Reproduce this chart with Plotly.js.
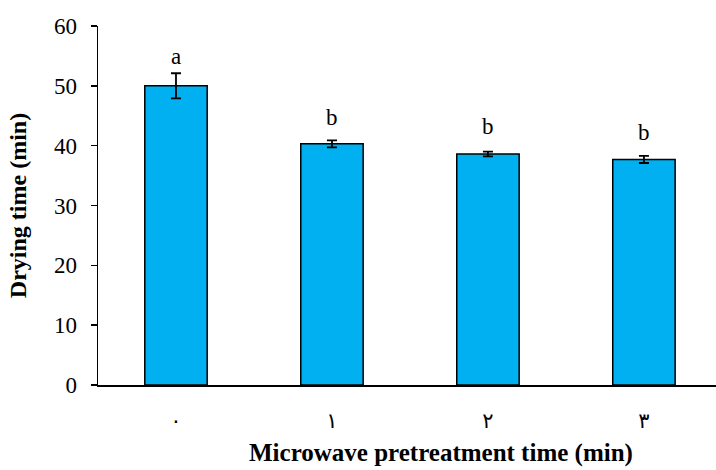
<!DOCTYPE html>
<html><head><meta charset="utf-8">
<script src="https://cdn.plot.ly/plotly-3.0.1.min.js"></script>
<style>body{margin:0;background:#fff}</style>
</head><body><div id="chart" style="width:716px;height:470px"></div>
<script>
const categories = ['٠','١','٢','٣'];
const values = [50.0, 40.3, 38.6, 37.7];
const errors = [2.1, 0.6, 0.4, 0.6];
const letters = ['a','b','b','b'];

const letterShift = [2, 8, 11, 9];

const trace = {
  type:'bar', x:categories, y:values, width:0.4,
  marker:{color:'#00B0F0', line:{color:'#000', width:1.5}},
  error_y:{type:'data', array:errors, visible:true, color:'#000', thickness:1.8, width:5}
};
const annotations = categories.map((c,i)=>({
  x:c, y:values[i]+errors[i], text:letters[i], showarrow:false,
  yanchor:'bottom', yshift:letterShift[i], font:{family:'Liberation Serif', size:23, color:'#000'}
}));
annotations.push({
  xref:'paper', yref:'paper', x:0.555, y:0, xanchor:'center', yanchor:'middle', yshift:-68,
  text:'<b>Microwave pretreatment time (min)</b>', showarrow:false,
  font:{family:'Liberation Serif', size:25, color:'#000'}
});
const layout = {
  width:716, height:470,
  margin:{l:98, r:0, t:26, b:85},
  paper_bgcolor:'#fff', plot_bgcolor:'#fff',
  showlegend:false,
  font:{family:'Liberation Serif', color:'#000'},
  xaxis:{type:'category', range:[-0.5,3.462], showgrid:false, zeroline:false,
    showline:true, linecolor:'#000', linewidth:1.5, ticks:'',
    tickfont:{family:'DejaVu Sans', size:21, color:'#000'}, ticklabelstandoff:16},
  yaxis:{range:[0,60], dtick:10, showgrid:false, zeroline:false,
    showline:true, linecolor:'#000', linewidth:1.5, ticks:'outside', ticklen:6, tickwidth:1.5, tickcolor:'#000',
    tickfont:{family:'Liberation Serif', size:23, color:'#000'}, ticklabelstandoff:9,
    title:{text:'<b>Drying time (min)</b>', font:{family:'Liberation Serif', size:24, color:'#000'}, standoff:20}},
  annotations:annotations
};
Plotly.newPlot('chart',[trace],layout,{displayModeBar:false,staticPlot:true});
</script></body></html>
